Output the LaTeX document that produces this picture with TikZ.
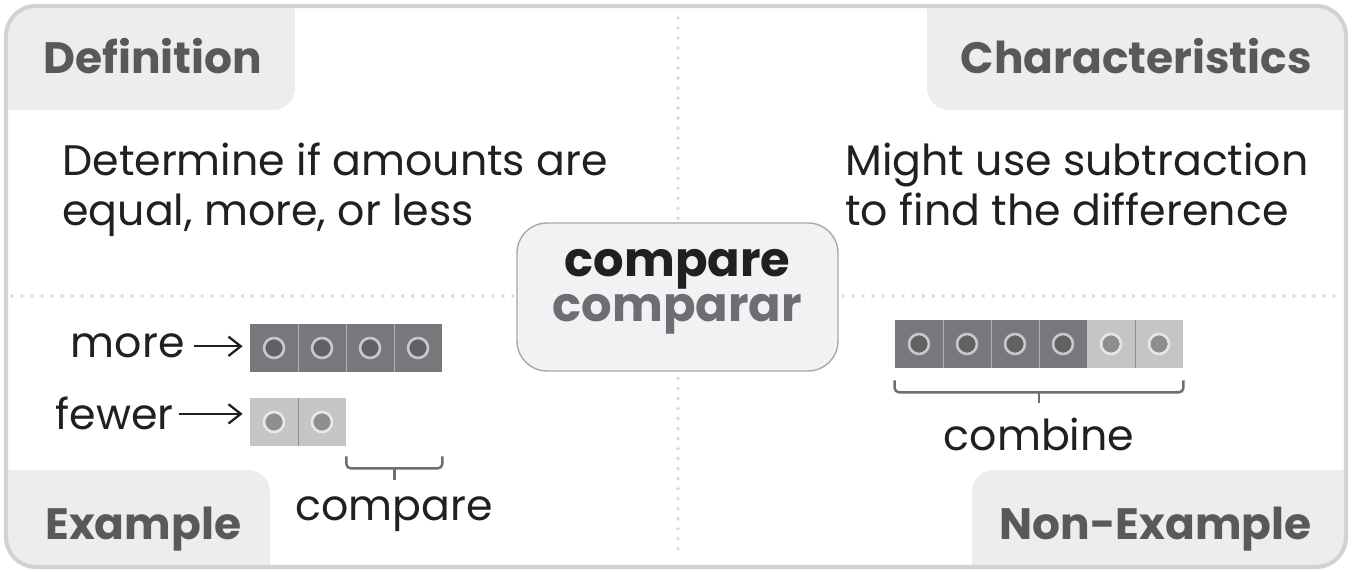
\documentclass[tikz,border=0pt]{standalone}
\usepackage{fontspec}
\setmainfont{Poppins}
\usetikzlibrary{arrows.meta,positioning,calc}
\definecolor{frameg}{HTML}{D1D2D4}
\definecolor{tabg}{HTML}{EDEDEE}
\definecolor{labelg}{HTML}{58595B}
\definecolor{inkk}{HTML}{231F20}
\definecolor{dotg}{HTML}{D9DADB}
\definecolor{boxfill}{HTML}{F1F2F4}
\definecolor{boxline}{HTML}{A7A9AC}
\definecolor{spanishg}{HTML}{6D6E71}
\definecolor{darkcell}{HTML}{77787B}
\definecolor{darkdot}{HTML}{616164}
\definecolor{darkring}{HTML}{C7C8CA}
\definecolor{lightcell}{HTML}{C4C5C7}
\definecolor{lightdot}{HTML}{8D8E90}
\definecolor{lightring}{HTML}{E6E7E8}
\definecolor{brackg}{HTML}{6D6E71}

\tikzset{
  tablabel/.style={font=\fontsize{25}{30}\selectfont\bfseries, text=labelg, inner sep=0pt},
  bodytext/.style={font=\fontsize{24.3}{28.5}\selectfont, text=inkk, inner sep=0pt, align=left},
  cellbase/.style={minimum width=0.96cm, minimum height=0.96cm, inner sep=0pt},
  darkcube/.style={cellbase, fill=darkcell,
    path picture={\filldraw[fill=darkdot, draw=darkring, line width=1.5pt]
      (path picture bounding box.center) circle (0.2cm);}},
  lightcube/.style={cellbase, fill=lightcell,
    path picture={\filldraw[fill=lightdot, draw=lightring, line width=1.5pt]
      (path picture bounding box.center) circle (0.2cm);}},
  darkdiv/.style={draw=darkring!70!darkcell, line width=0.6pt},
  lightdiv/.style={draw=lightdot, line width=0.6pt},
  bracket/.style={draw=brackg, line width=1.4pt, rounded corners=2.5pt},
  dotline/.style={draw=dotg, line width=2.2pt, line cap=round, dash pattern=on 0pt off 5.7pt},
  pointer/.style={draw=inkk, line width=1.3pt, -{Straight Barb[length=7pt, width=11pt, line width=1.3pt]}}
}

\begin{document}
\begin{tikzpicture}[x=0.02cm, y=-0.02cm]
  \useasboundingbox (0,0) rectangle (1352,573);
  % corner tabs
  \begin{scope}
    \clip[rounded corners=17pt] (6,6) rectangle (1346,567);
    \fill[tabg, rounded corners=12.5pt] (-40,-40) rectangle (295,110);
    \fill[tabg, rounded corners=12.5pt] (927,-40) rectangle (1400,110);
    \fill[tabg, rounded corners=12.5pt] (-40,470) rectangle (270,620);
    \fill[tabg, rounded corners=12.5pt] (972,470) rectangle (1400,620);
  \end{scope}
  \draw[frameg, line width=2.3pt, rounded corners=17pt] (6,6) rectangle (1346,567);
  % dotted cross
  \draw[dotline] (678,18) -- (678,556);
  \draw[dotline] (12,296) -- (1342,296);
  % headings
  \node[tablabel, anchor=base west] (defTab) at (43,74) {Definition};
  \node[tablabel, anchor=base east] (charTab) at (1312,74) {Characteristics};
  \node[tablabel, anchor=base west] (exTab) at (45,540) {Example};
  \node[tablabel, anchor=base east] (nonexTab) at (1312,540) {Non-Example};
  % texts (base = last line)
  \node[bodytext, anchor=base west] (defText) at (62,226) {Determine if amounts are\\equal, more, or less};
  \node[bodytext, anchor=base west] (charText) at (845,226) {Might use subtraction\\to find the difference};
  % centre word
  \node[draw=boxline, fill=boxfill, line width=0.8pt, rounded corners=17pt,
        minimum width=6.42cm, minimum height=2.96cm] (word) at (677.5,297) {};
  \node[align=center, inner sep=0pt, font=\fontsize{27.3}{25.6}\selectfont\bfseries]
    (wordTxt) at ($(word.center)+(0,-5)$)
    {\textcolor{inkk}{compare}\\\textcolor{spanishg}{comparar}};
  % example: more / fewer
  \foreach \i in {1,...,4}
    \node[darkcube] (m\i) at ({226+48*\i},348) {};
  \foreach \i in {1,2,3}
    \draw[darkdiv] (m\i.north east) -- (m\i.south east);
  \foreach \i in {1,2}
    \node[lightcube] (f\i) at ({226+48*\i},422) {};
  \draw[lightdiv] (f1.north east) -- (f1.south east);
  \node[bodytext, anchor=base east] (moreLbl) at (185,358) {more};
  \node[bodytext, anchor=base east] (fewerLbl) at (174,430) {fewer};
  \draw[pointer, shorten <=5pt, shorten >=4pt] (moreLbl.east) -- (moreLbl.east -| m1.west);
  \draw[pointer, shorten <=3pt, shorten >=4pt] (fewerLbl.east) -- (fewerLbl.east -| f1.west);
  \coordinate (cmpL) at ($(f2.south east)+(0,10)$);
  \coordinate (cmpR) at (cmpL -| m4.east);
  \draw[bracket] (cmpL) -- ++(0,12) -| (cmpR);
  \draw[bracket] ($(cmpL)!0.5!(cmpR)+(0,12)$) -- ++(0,12);
  \node[bodytext, anchor=base] (cmpLbl) at ($(cmpL)!0.5!(cmpR)+(0,64)$) {compare};
  % non-example: combine
  \foreach \i in {1,...,4}
    \node[darkcube] (n\i) at ({871+48*\i},344) {};
  \foreach \i in {5,6}
    \node[lightcube] (n\i) at ({871+48*\i},344) {};
  \foreach \i in {1,2,3}
    \draw[darkdiv] (n\i.north east) -- (n\i.south east);
  \draw[lightdiv] (n5.north east) -- (n5.south east);
  \coordinate (cmbL) at ($(n1.south west)+(0,12)$);
  \coordinate (cmbR) at (cmbL -| n6.east);
  \draw[bracket] (cmbL) -- ++(0,12) -| (cmbR);
  \draw[bracket] ($(cmbL)!0.5!(cmbR)+(0,12)$) -- ++(0,11);
  \node[bodytext, anchor=base] (cmbLbl) at ($(cmbL)!0.5!(cmbR)+(0,70)$) {combine};
\end{tikzpicture}
\end{document}
